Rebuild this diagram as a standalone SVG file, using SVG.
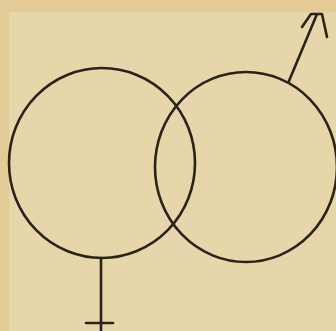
<svg xmlns="http://www.w3.org/2000/svg" width="336" height="331" viewBox="0 0 336 331">
<style>
.ink{fill:none;stroke:#2a2418;stroke-width:2.6;stroke-linecap:round;stroke-linejoin:round}
</style>
<rect width="336" height="331" fill="#e2cb96"/>
<rect x="9" y="12" width="327" height="319" fill="#e7d6a9"/>
<g id="venus">
<ellipse class="ink" cx="102" cy="163" rx="93" ry="95"/>
<line class="ink" x1="101" y1="258" x2="101" y2="331" stroke-width="3.2"/>
<line class="ink" x1="86" y1="323" x2="113" y2="323" stroke-width="3.2"/>
</g>
<g id="mars">
<ellipse class="ink" cx="246" cy="167" rx="91" ry="95"/>
<line class="ink" x1="289" y1="81" x2="317" y2="14"/>
<polyline class="ink" points="302,27 311,14 322,14 327,37" stroke-width="3"/>
</g>
</svg>
